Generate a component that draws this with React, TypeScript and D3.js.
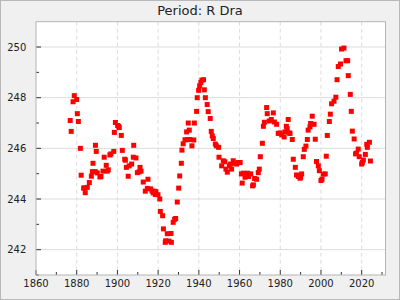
import React from "react";
import * as d3 from "d3";

const years: number[] = [
  1876.8, 1877.3, 1878.2, 1878.8, 1880.0, 1880.3, 1880.8, 1881.8, 1882.2, 1883.4,
  1883.8, 1884.2, 1885.2, 1886.2, 1887.2, 1887.7, 1888.0, 1889.1, 1889.2, 1889.6,
  1890.1, 1891.4, 1891.9, 1892.9, 1893.5, 1894.5, 1895.0, 1895.5, 1896.3, 1896.8,
  1898.2, 1898.5, 1899.0, 1900.1, 1900.6, 1900.9, 1901.9, 1902.4, 1903.6, 1903.9,
  1904.4, 1905.3, 1905.8, 1907.0, 1907.8, 1908.0, 1909.1, 1909.8, 1910.6, 1911.1,
  1911.6, 1912.7, 1913.7, 1914.7, 1915.0, 1916.3, 1917.0, 1917.6, 1918.1, 1918.6,
  1918.9, 1919.9, 1920.8, 1921.1, 1922.2, 1922.6, 1923.5, 1923.7, 1924.5, 1925.3,
  1926.3, 1926.5, 1927.4, 1928.1, 1928.6, 1929.4, 1930.1, 1930.6, 1931.4, 1931.7,
  1932.3, 1933.2, 1934.0, 1934.5, 1934.8, 1935.3, 1935.6, 1936.6, 1937.5, 1937.8,
  1938.9, 1939.2, 1939.9, 1940.4, 1941.0, 1941.5, 1942.3, 1942.7, 1943.2, 1944.1,
  1944.6, 1945.6, 1946.1, 1946.6, 1947.1, 1948.1, 1948.6, 1949.7, 1949.9, 1951.2,
  1952.0, 1952.8, 1953.3, 1954.0, 1955.0, 1955.6, 1956.1, 1956.9, 1957.7, 1958.6,
  1959.4, 1960.3, 1960.9, 1961.3, 1961.8, 1962.7, 1963.0, 1963.9, 1964.4, 1965.5,
  1966.4, 1966.8, 1967.4, 1968.4, 1969.2, 1969.7, 1970.2, 1971.2, 1971.7, 1972.2,
  1973.3, 1973.6, 1974.6, 1975.6, 1976.6, 1977.1, 1978.2, 1979.0, 1979.9, 1980.7,
  1981.9, 1982.3, 1983.0, 1983.4, 1983.9, 1984.4, 1984.8, 1985.9, 1986.4, 1987.4,
  1988.0, 1988.8, 1989.7, 1990.0, 1990.5, 1991.3, 1991.8, 1992.6, 1993.3, 1993.7,
  1994.6, 1994.9, 1995.7, 1996.6, 1997.2, 1997.8, 1998.7, 1999.2, 2000.0, 2000.5,
  2001.1, 2002.1, 2002.6, 2003.1, 2004.1, 2004.6, 2005.2, 2006.4, 2007.3, 2007.9,
  2008.5, 2009.6, 2010.1, 2011.3, 2012.3, 2013.1, 2013.4, 2014.4, 2014.9, 2015.4,
  2016.3, 2017.0, 2017.4, 2018.3, 2018.8, 2020.0, 2020.3, 2020.8, 2021.8, 2022.5,
  2022.8, 2023.8, 2024.3,
];

const periods: number[] = [
  247.10, 246.67, 247.84, 248.08, 247.93, 247.37, 247.06, 246.00, 244.94, 244.43,
  244.44, 244.25, 244.46, 244.65, 244.90, 245.08, 245.41, 245.08, 246.12, 245.88,
  245.03, 244.87, 244.89, 245.10, 245.65, 245.33, 245.10, 245.15, 245.74, 245.78,
  245.88, 246.63, 247.02, 246.90, 246.87, 246.82, 246.51, 245.92, 245.57, 245.53,
  245.25, 244.90, 245.31, 245.38, 245.65, 246.12, 245.62, 245.04, 245.07, 245.25,
  245.10, 244.67, 244.31, 244.42, 244.78, 244.40, 244.31, 244.24, 244.31, 244.18,
  244.29, 244.17, 244.00, 243.51, 243.34, 242.82, 242.29, 242.35, 242.63, 242.34,
  242.64, 242.29, 243.08, 243.20, 243.23, 243.88, 244.43, 244.91, 245.41, 245.93,
  246.18, 246.34, 246.65, 246.34, 247.00, 246.72, 246.35, 246.10, 246.33, 247.00,
  247.46, 248.00, 248.29, 248.47, 248.60, 248.69, 248.71, 248.31, 248.00, 247.73,
  247.45, 247.18, 246.67, 246.49, 246.39, 246.17, 246.10, 246.04, 245.65, 245.31,
  245.51, 245.47, 245.18, 245.06, 245.31, 245.38, 245.18, 245.51, 245.41, 245.38,
  245.44, 245.44, 244.99, 244.63, 245.02, 244.86, 244.95, 245.02, 244.89, 244.99,
  244.52, 244.56, 244.81, 244.78, 245.04, 245.18, 245.67, 246.20, 246.87, 247.03,
  247.61, 247.37, 247.08, 247.14, 247.40, 247.04, 246.95, 246.59, 246.61, 246.53,
  246.45, 246.65, 246.87, 246.78, 247.14, 246.61, 246.59, 246.35, 245.57, 245.25,
  244.95, 244.89, 244.82, 244.86, 244.99, 245.67, 245.96, 246.09, 246.35, 246.72,
  246.85, 246.98, 247.27, 246.95, 246.36, 245.48, 245.31, 245.12, 244.73, 244.78,
  244.98, 244.99, 245.69, 246.51, 247.06, 247.35, 247.76, 247.86, 248.02, 248.71,
  249.23, 249.33, 249.92, 249.96, 249.46, 249.46, 248.87, 248.13, 247.46, 246.68,
  246.37, 245.78, 245.81, 245.97, 245.67, 245.38, 245.44, 245.54, 245.76, 246.16,
  246.04, 246.24, 245.50,
];

const xMajorTicks: number[] = [1860, 1880, 1900, 1920, 1940, 1960, 1980, 2000, 2020];
const xMinorTicks: number[] = [1870, 1890, 1910, 1930, 1950, 1970, 1990, 2010, 2030];
const yMajorTicks: number[] = [242, 244, 246, 248, 250];
const yMinorTicks: number[] = [241, 243, 245, 247, 249];
const title = "Period: R Dra";

const W = 400;
const H = 300;
const L = 36;
const R = 385.5;
const T = 21.7;
const B = 275;

export default function App() {
  const x = d3.scaleLinear().domain([1860, 2031.7]).range([L, R]);
  const y = d3.scaleLinear().domain([241, 251]).range([B, T]);
  const font = "'DejaVu Sans', sans-serif";
  const sz = 5;
  return (
    <svg
      width={W}
      height={H}
      style={{ position: "fixed", left: 0, top: 0, display: "block" }}
      fontFamily={font}
    >
      <rect x={0.5} y={0.5} width={W - 1} height={H - 1} fill="#f0f0f0" stroke="#b8b8b8" />
      <rect x={L} y={T} width={R - L} height={B - T} fill="#ffffff" />
      {yMajorTicks.map((v) => (
        <line key={"gy" + v} x1={L} x2={R} y1={y(v)} y2={y(v)} stroke="#dcdcdc" strokeWidth={1} />
      ))}
      {xMajorTicks.filter((v) => v > 1860).map((v) => (
        <line
          key={"gx" + v}
          x1={x(v)}
          x2={x(v)}
          y1={T}
          y2={B}
          stroke="#dcdcdc"
          strokeWidth={1}
          strokeDasharray="4,3"
        />
      ))}
      {yMajorTicks.map((v) => (
        <line key={"ty" + v} x1={L} x2={L + 5} y1={y(v)} y2={y(v)} stroke="#333" />
      ))}
      {yMinorTicks.map((v) => (
        <line key={"tym" + v} x1={L} x2={L + 3} y1={y(v)} y2={y(v)} stroke="#333" />
      ))}
      {xMajorTicks.map((v) => (
        <line key={"tx" + v} x1={x(v)} x2={x(v)} y1={B} y2={B - 5} stroke="#333" />
      ))}
      {xMinorTicks.map((v) => (
        <line key={"txm" + v} x1={x(v)} x2={x(v)} y1={B} y2={B - 3} stroke="#333" />
      ))}
      {years.map((yr, i) => (
        <rect
          key={"p" + i}
          x={x(yr) - sz / 2}
          y={y(periods[i]) - sz / 2}
          width={sz}
          height={sz}
          fill="#ff0000"
        />
      ))}
      <rect x={L} y={T} width={R - L} height={B - T} fill="none" stroke="#b4b4b4" strokeWidth={1} />
      {yMajorTicks.map((v) => (
        <text
          key={"ly" + v}
          x={L - 9.7}
          y={y(v)}
          dy="0.36em"
          textAnchor="end"
          fontSize={10}
          fill="#222"
        >
          {v}
        </text>
      ))}
      {xMajorTicks.map((v) => (
        <text key={"lx" + v} x={x(v)} y={B + 12.3} textAnchor="middle" fontSize={10} fill="#222">
          {v}
        </text>
      ))}
      <text x={200} y={15} textAnchor="middle" fontSize={13} fill="#222">
        {title}
      </text>
    </svg>
  );
}
